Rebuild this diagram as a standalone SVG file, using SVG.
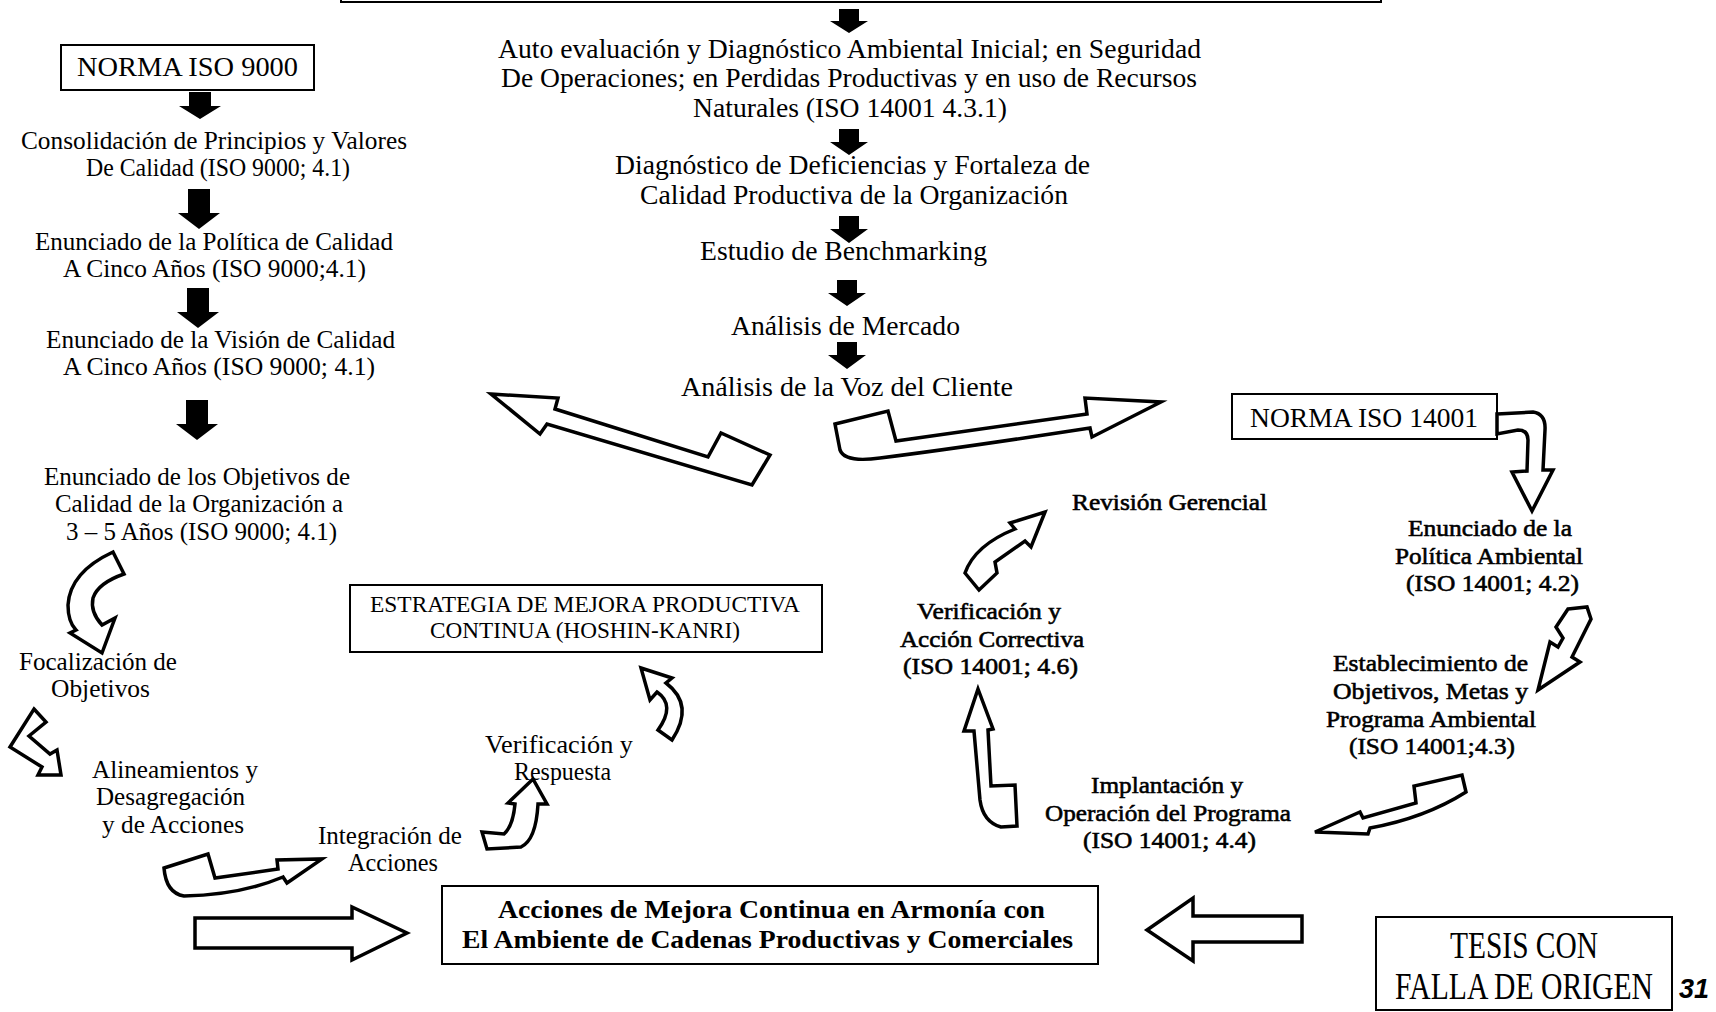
<svg xmlns="http://www.w3.org/2000/svg" width="1716" height="1012" viewBox="0 0 1716 1012">
<style>
.t{font-family:"Liberation Serif","Times New Roman",serif;font-size:26px;fill:#000}
.c{font-size:27px}
.b{font-weight:bold;font-size:25px}
.r{font-size:24px;stroke:#000;stroke-width:0.6px}
.s{font-size:24px}
.n{font-size:27px}
.big{font-size:30px}
.box{fill:none;stroke:#000;stroke-width:2}
.solid{fill:#000;stroke:none}
.hollow{fill:#fff;stroke:#000;stroke-width:3.5;stroke-linejoin:miter}
</style>
<rect width="1716" height="1012" fill="#fff"/>

<g id="top-box"><rect class="box" x="341" y="-50" width="1040" height="52" stroke-width="3"/></g>

<g id="norma9000">
<rect class="box" x="61" y="45" width="253" height="45"/>
<text class="t n" x="77" y="76" textLength="221" lengthAdjust="spacingAndGlyphs">NORMA ISO 9000</text>
</g>
<g id="consolidacion">
<text class="t" x="21" y="149" textLength="386" lengthAdjust="spacingAndGlyphs">Consolidación de Principios y Valores</text>
<text class="t" x="86" y="176" textLength="264" lengthAdjust="spacingAndGlyphs">De Calidad (ISO 9000; 4.1)</text>
</g>
<g id="politica-calidad">
<text class="t" x="35" y="250" textLength="358" lengthAdjust="spacingAndGlyphs">Enunciado de la Política de Calidad</text>
<text class="t" x="63" y="277" textLength="303" lengthAdjust="spacingAndGlyphs">A Cinco Años (ISO 9000;4.1)</text>
</g>
<g id="vision-calidad">
<text class="t" x="46" y="348" textLength="349" lengthAdjust="spacingAndGlyphs">Enunciado de la Visión de Calidad</text>
<text class="t" x="63" y="375" textLength="312" lengthAdjust="spacingAndGlyphs">A Cinco Años (ISO 9000; 4.1)</text>
</g>
<g id="objetivos-calidad">
<text class="t" x="44" y="485" textLength="306" lengthAdjust="spacingAndGlyphs">Enunciado de los Objetivos de</text>
<text class="t" x="55" y="512" textLength="288" lengthAdjust="spacingAndGlyphs">Calidad de la Organización a</text>
<text class="t" x="66" y="540" textLength="271" lengthAdjust="spacingAndGlyphs">3 – 5 Años (ISO 9000; 4.1)</text>
</g>
<g id="focalizacion">
<text class="t" x="19" y="670" textLength="158" lengthAdjust="spacingAndGlyphs">Focalización de</text>
<text class="t" x="51" y="697" textLength="99" lengthAdjust="spacingAndGlyphs">Objetivos</text>
</g>
<g id="alineamientos">
<text class="t" x="92" y="778" textLength="166" lengthAdjust="spacingAndGlyphs">Alineamientos y</text>
<text class="t" x="96" y="805" textLength="149" lengthAdjust="spacingAndGlyphs">Desagregación</text>
<text class="t" x="102" y="833" textLength="142" lengthAdjust="spacingAndGlyphs">y de Acciones</text>
</g>
<g id="integracion">
<text class="t" x="318" y="844" textLength="144" lengthAdjust="spacingAndGlyphs">Integración de</text>
<text class="t" x="348" y="871" textLength="90" lengthAdjust="spacingAndGlyphs">Acciones</text>
</g>
<g id="verif-respuesta">
<text class="t" x="485" y="753" textLength="148" lengthAdjust="spacingAndGlyphs">Verificación y</text>
<text class="t" x="514" y="780" textLength="97" lengthAdjust="spacingAndGlyphs">Respuesta</text>
</g>
<g id="estrategia">
<rect class="box" x="350" y="585" width="472" height="67"/>
<text class="t s" x="370" y="612" textLength="430" lengthAdjust="spacingAndGlyphs">ESTRATEGIA DE MEJORA PRODUCTIVA</text>
<text class="t s" x="430" y="638" textLength="310" lengthAdjust="spacingAndGlyphs">CONTINUA (HOSHIN-KANRI)</text>
</g>

<g id="autoevaluacion">
<text class="t c" x="498" y="58" textLength="703" lengthAdjust="spacingAndGlyphs">Auto evaluación y Diagnóstico Ambiental Inicial; en Seguridad</text>
<text class="t c" x="501" y="87" textLength="696" lengthAdjust="spacingAndGlyphs">De Operaciones; en Perdidas Productivas y en uso de Recursos</text>
<text class="t c" x="693" y="117" textLength="314" lengthAdjust="spacingAndGlyphs">Naturales (ISO 14001 4.3.1)</text>
</g>
<g id="diagnostico">
<text class="t c" x="615" y="174" textLength="475" lengthAdjust="spacingAndGlyphs">Diagnóstico de Deficiencias y Fortaleza de</text>
<text class="t c" x="640" y="204" textLength="428" lengthAdjust="spacingAndGlyphs">Calidad Productiva de la Organización</text>
</g>
<g id="benchmarking"><text class="t c" x="700" y="260" textLength="287" lengthAdjust="spacingAndGlyphs">Estudio de Benchmarking</text></g>
<g id="mercado"><text class="t c" x="731" y="335" textLength="229" lengthAdjust="spacingAndGlyphs">Análisis de Mercado</text></g>
<g id="voz-cliente"><text class="t c" x="681" y="396" textLength="332" lengthAdjust="spacingAndGlyphs">Análisis de la Voz del Cliente</text></g>

<g id="norma14001">
<rect class="box" x="1232" y="394" width="265" height="45"/>
<text class="t n" x="1250" y="427" textLength="228" lengthAdjust="spacingAndGlyphs">NORMA ISO 14001</text>
</g>
<g id="revision"><text class="t r" x="1072" y="510" textLength="195" lengthAdjust="spacingAndGlyphs">Revisión Gerencial</text></g>
<g id="politica-ambiental">
<text class="t r" x="1408" y="536" textLength="164" lengthAdjust="spacingAndGlyphs">Enunciado de la</text>
<text class="t r" x="1395" y="564" textLength="188" lengthAdjust="spacingAndGlyphs">Política Ambiental</text>
<text class="t r" x="1406" y="591" textLength="173" lengthAdjust="spacingAndGlyphs">(ISO 14001; 4.2)</text>
</g>
<g id="verif-correctiva">
<text class="t r" x="917" y="619" textLength="144" lengthAdjust="spacingAndGlyphs">Verificación y</text>
<text class="t r" x="900" y="647" textLength="184" lengthAdjust="spacingAndGlyphs">Acción Correctiva</text>
<text class="t r" x="903" y="674" textLength="175" lengthAdjust="spacingAndGlyphs">(ISO 14001; 4.6)</text>
</g>
<g id="establecimiento">
<text class="t r" x="1333" y="671" textLength="195" lengthAdjust="spacingAndGlyphs">Establecimiento de</text>
<text class="t r" x="1333" y="699" textLength="195" lengthAdjust="spacingAndGlyphs">Objetivos, Metas y</text>
<text class="t r" x="1326" y="727" textLength="210" lengthAdjust="spacingAndGlyphs">Programa Ambiental</text>
<text class="t r" x="1349" y="754" textLength="166" lengthAdjust="spacingAndGlyphs">(ISO 14001;4.3)</text>
</g>
<g id="implantacion">
<text class="t r" x="1091" y="793" textLength="152" lengthAdjust="spacingAndGlyphs">Implantación y</text>
<text class="t r" x="1045" y="821" textLength="246" lengthAdjust="spacingAndGlyphs">Operación del Programa</text>
<text class="t r" x="1083" y="848" textLength="173" lengthAdjust="spacingAndGlyphs">(ISO 14001; 4.4)</text>
</g>

<g id="acciones-mejora">
<rect class="box" x="442" y="886" width="656" height="78"/>
<text class="t b" x="498" y="918" textLength="547" lengthAdjust="spacingAndGlyphs">Acciones de Mejora Continua en Armonía con</text>
<text class="t b" x="462" y="948" textLength="611" lengthAdjust="spacingAndGlyphs">El Ambiente de Cadenas Productivas y Comerciales</text>
</g>

<g id="tesis">
<rect class="box" x="1376" y="917" width="296" height="93"/>
<text class="t big" transform="translate(1450 958) scale(1 1.25)" textLength="148" lengthAdjust="spacingAndGlyphs">TESIS CON</text>
<text class="t big" transform="translate(1395 999) scale(1 1.25)" textLength="258" lengthAdjust="spacingAndGlyphs">FALLA DE ORIGEN</text>
<text x="1679" y="998" style="font-family:'Liberation Sans',sans-serif;font-size:27px;font-style:italic;font-weight:bold">31</text>
</g>

<g id="connectors">
<polygon class="solid" points="189,92 211,92 211,106 221,106 200,119 179,106 189,106"/>
<polygon class="solid" points="188,189 210,189 210,213 220,213 199,229 178,213 188,213"/>
<polygon class="solid" points="187,288 209,288 209,312 219,312 198,328 177,312 187,312"/>
<polygon class="solid" points="186,400 208,400 208,424 218,424 197,440 176,424 186,424"/>

<polygon class="solid" points="839,9 859,9 859,21 868,21 849,33 830,21 839,21"/>
<polygon class="solid" points="839,129 859,129 859,142 868,142 849,155 830,142 839,142"/>
<polygon class="solid" points="839,216 859,216 859,229 868,229 849,243 830,229 839,229"/>
<polygon class="solid" points="837,280 857,280 857,293 866,293 847,306 828,293 837,293"/>
<polygon class="solid" points="837,342 857,342 857,355 866,355 847,369 828,355 837,355"/>

<path class="hollow" d="M491 394 L558 398 L555 409 L708 457 L721 433 L770 455 L752 485 L547 424 L540 434 Z"/>
<path class="hollow" d="M835 424 L888 411 L896 441 L1087 414 L1085 398 L1161 402 L1092 437 L1090 428 Q960 448 880 458 Q845 463 840 450 Z"/>

<path class="hollow" d="M1497 414 L1533 412 Q1546 414 1545 430 L1543 470 L1553 470 L1532 511 L1512 472 L1527 471 L1528 440 Q1528 430 1518 430 L1497 434 Z"/>
<path class="hollow" d="M1568 609 L1587 607 L1591 619 L1572 657 L1580 662 L1538 690 L1550 642 L1558 647 L1563 638 L1556 627 Z"/>
<path class="hollow" d="M1315 832 L1360 812 L1363 818 L1416 803 L1414 786 L1462 775 L1466 792 Q1425 818 1370 828 L1368 834 Z"/>
<path class="hollow" d="M978 689 L993 729 L988 730 L991 786 L1015 785 L1017 826 L1001 827 Q983 822 980 800 L974 731 L964 731 Z"/>
<path class="hollow" d="M1045 512 L1031 547 L1025 541 L995 562 L997 573 L979 590 L965 573 Q975 545 1015 529 L1010 523 Z"/>

<path class="hollow" d="M113 552 Q70 572 68 605 Q68 622 76 630 L70 633 L102 653 L115 618 L102 625 Q90 612 93 598 Q98 583 124 574 Z"/>
<path class="hollow" d="M34 709 L46 722 L29 736 L50 754 L57 750 L61 775 L38 775 L42 767 L10 747 Z"/>
<path class="hollow" d="M164 868 L208 854 L215 878 L278 869 L277 860 L322 859 L287 883 L283 877 Q240 895 184 896 Q166 893 164 868 Z"/>
<path class="hollow" d="M482 832 L504 834 Q513 826 515 804 L508 803 L533 779 L547 804 L538 804 Q536 840 521 847 L487 849 Z"/>
<path class="hollow" d="M641 668 L672 678 L666 683 Q695 705 672 740 L658 730 Q676 705 657 692 L650 700 Z"/>

<polygon class="hollow" points="195,918 352,918 352,907 407,933 352,960 352,948 195,948"/>
<polygon class="hollow" points="1302,916 1193,916 1193,898 1147,930 1193,961 1193,942 1302,942"/>
</g>
</svg>
